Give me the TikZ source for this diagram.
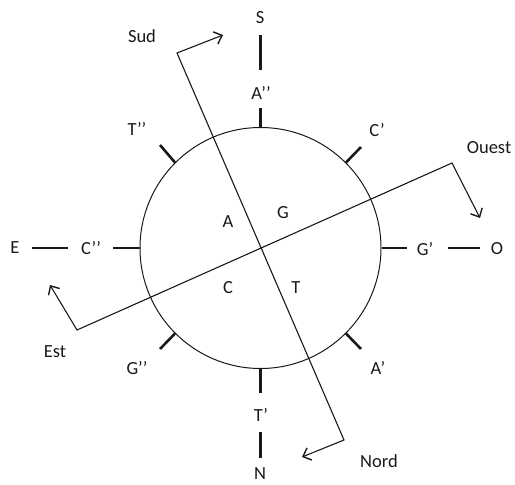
\documentclass[tikz,border=0pt]{standalone}
\usepackage{fontspec}
\setmainfont{Carlito}
\usetikzlibrary{arrows.meta}
\begin{document}
\begin{tikzpicture}[x=1pt,y=-1pt,
  lbl/.style={font=\fontsize{18.5}{20}\selectfont, inner sep=0pt, text=black!90},
  tickline/.style={line width=2.6pt, draw=black!90},
  arr/.style={line width=1.1pt, draw=black!90,
    {Straight Barb[length=7pt,width=13pt,line width=1.4pt]}-{Straight Barb[length=7pt,width=13pt,line width=1.4pt]}}]
\useasboundingbox (0,0) rectangle (515,485);
\node[circle, draw=black!90, line width=1pt, minimum size=241pt, inner sep=0pt] (c) at (260.5,248) {};
% labels
\node[lbl] (S) at (260,18) {S};
\node[lbl] (A2) at (261,93) {A’’};
\node[lbl] (T1) at (261,415) {T’};
\node[lbl] (N) at (260,474) {N};
\node[lbl] (E) at (15,248) {E};
\node[lbl] (C2) at (91,248) {C’’};
\node[lbl] (G1) at (425,249) {G’};
\node[lbl] (O) at (497,249) {O};
\node[lbl] (T2) at (137,129) {T’’};
\node[lbl] (C1) at (377,130) {C’};
\node[lbl] (G2) at (137,368) {G’’};
\node[lbl] (A1) at (378,368) {A’};
\node[lbl] (A) at (228,222) {A};
\node[lbl] (G) at (283,213) {G};
\node[lbl] (C) at (228,288) {C};
\node[lbl] (T) at (296,288) {T};
\node[lbl] (sud) at (142,36) {Sud};
\node[lbl] (ouest) at (489,148) {Ouest};
\node[lbl] (est) at (55,352) {Est};
\node[lbl] (nord) at (379,461) {Nord};
% ticks
\draw[tickline] (260.5,108) -- (c.north);
\draw[tickline] (260.5,35) -- (260.5,70);
\draw[tickline] (c.south) -- (260.5,393);
\draw[tickline] (260.5,432) -- (260.5,458);
\draw[tickline] (113,248) -- (c.west);
\draw[tickline] (32,248) -- (68,248);
\draw[tickline] (c.east) -- (407,248);
\draw[tickline] (448,248) -- (480,248);
\draw[tickline] (160,145) -- (c.north west);
\draw[tickline] (361,147) -- (c.north east);
\draw[tickline] (160,349) -- (c.south west);
\draw[tickline] (361,349) -- (c.south east);
% axes with arrows
\coordinate (sc) at (177,53);
\coordinate (st) at (223,35);
\coordinate (nc) at (344,440);
\coordinate (nt) at (302,457);
\coordinate (oc) at (452,163);
\coordinate (ot) at (480,218);
\coordinate (ec) at (77,330);
\coordinate (et) at (50,285);
\draw[arr] (st) -- (sc) -- (nc) -- (nt);
\draw[arr] (ot) -- (oc) -- (ec) -- (et);
\end{tikzpicture}
\end{document}
